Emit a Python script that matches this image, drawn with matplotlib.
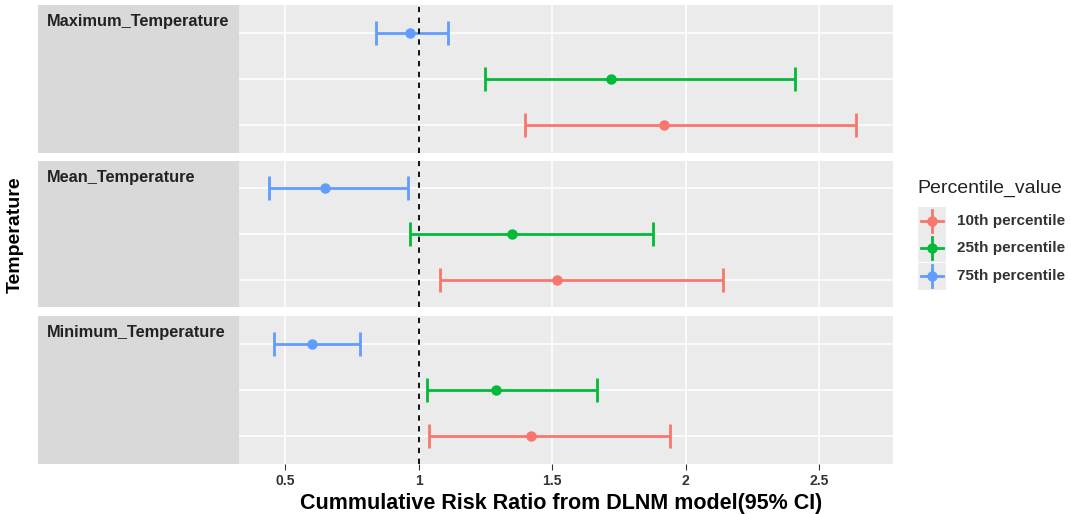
import matplotlib
matplotlib.use("Agg")
import matplotlib.pyplot as plt
from matplotlib.lines import Line2D
from matplotlib.patches import Rectangle

plt.rcParams["font.family"] = ["Liberation Sans", "DejaVu Sans"]

# facets, top to bottom
facets = ["Maximum_Temperature", "Mean_Temperature", "Minimum_Temperature"]
groups = ["10th percentile", "25th percentile", "75th percentile"]
colors = ["#F8766D", "#00BA38", "#619CFF"]

# risk ratio estimates per facet: [10th, 25th, 75th]
est = {
    "Maximum_Temperature": [1.92, 1.72, 0.97],
    "Mean_Temperature":    [1.52, 1.35, 0.65],
    "Minimum_Temperature": [1.42, 1.29, 0.60],
}
lower = {
    "Maximum_Temperature": [1.40, 1.25, 0.84],
    "Mean_Temperature":    [1.08, 0.97, 0.44],
    "Minimum_Temperature": [1.04, 1.03, 0.46],
}
upper = {
    "Maximum_Temperature": [2.64, 2.41, 1.11],
    "Mean_Temperature":    [2.14, 1.88, 0.96],
    "Minimum_Temperature": [1.94, 1.67, 0.78],
}
xticks = [0.5, 1, 1.5, 2, 2.5]

W, H = 1071, 514
fig = plt.figure(figsize=(W / 100, H / 100), dpi=100)

# panel boxes in pixels (top, bottom)
panels = [(5, 153), (161, 307), (316, 464)]
left_px, right_px = 38, 893

for i, name in enumerate(facets):
    top, bot = panels[i]
    ax = fig.add_axes([left_px / W, 1 - bot / H, (right_px - left_px) / W, (bot - top) / H])
    ax.set_facecolor("#EBEBEB")
    ax.set_axisbelow(True)
    ax.grid(True, color="white", linewidth=1.1)
    for s in ax.spines.values():
        s.set_visible(False)
    ax.set_xlim(-0.425, 2.777)
    ax.set_ylim(0.4, 3.6)
    ax.set_yticks([1, 2, 3])
    ax.set_yticklabels([])
    ax.tick_params(axis="y", length=0)
    ax.set_xticks(xticks)
    ax.axvspan(-0.425, 0.328, color="#D9D9D9", zorder=1, lw=0)
    for j, g in enumerate(groups):
        x = est[name][j]
        ax.errorbar(x, j + 1, xerr=[[x - lower[name][j]], [upper[name][j] - x]],
                    fmt="o", color=colors[j], ms=6.5, elinewidth=2, capsize=8.5,
                    capthick=2, zorder=3)
    ax.axvline(1, color="black", ls=(0, (3, 3)), lw=1.3, zorder=4)
    ax.text(0.01, 0.94, name, transform=ax.transAxes, ha="left", va="top",
            fontsize=11.8, fontweight="bold", color="#222222", zorder=5)
    if i < 2:
        ax.tick_params(axis="x", length=0, labelbottom=False)
    else:
        ax.set_xticklabels(["0.5", "1", "1.5", "2", "2.5"])
        ax.tick_params(axis="x", length=4, color="#333333", labelsize=10,
                       labelcolor="#333333", pad=3)
        for lab in ax.get_xticklabels():
            lab.set_fontweight("bold")
        ax.set_xlabel("Cummulative Risk Ratio from DLNM model(95% CI)",
                      fontsize=15.5, fontweight="bold")
        ax.xaxis.set_label_coords(0.612, -0.195)

fig.text(15 / W, 1 - 235 / H, "Temperature", rotation=90, ha="center",
         va="center", fontsize=14, fontweight="bold")

# legend, drawn by hand so the keys look like ggplot's
fig.text(917 / W, 1 - 188 / H, "Percentile_value", fontsize=14,
         ha="left", va="center", color="#222222")
key_y = [221, 248, 276]
for j, g in enumerate(groups):
    cy = key_y[j]
    fig.patches.append(Rectangle(((918) / W, 1 - (cy + 13.5) / H), 28 / W, 27 / H,
                                 transform=fig.transFigure, color="#EBEBEB",
                                 lw=0, figure=fig))
    fig.lines.append(Line2D([921 / W, 943 / W], [1 - cy / H] * 2, color=colors[j],
                            lw=2, transform=fig.transFigure, figure=fig))
    fig.lines.append(Line2D([932 / W] * 2, [1 - (cy + 11) / H, 1 - (cy - 11) / H],
                            color=colors[j], lw=2, transform=fig.transFigure, figure=fig))
    fig.lines.append(Line2D([932 / W], [1 - cy / H], color=colors[j], marker="o",
                            ms=6.5, transform=fig.transFigure, figure=fig))
    fig.text(957 / W, 1 - cy / H, g, fontsize=11, fontweight="bold",
             color="#333333", ha="left", va="center")

fig.savefig("out.png", dpi=100)
